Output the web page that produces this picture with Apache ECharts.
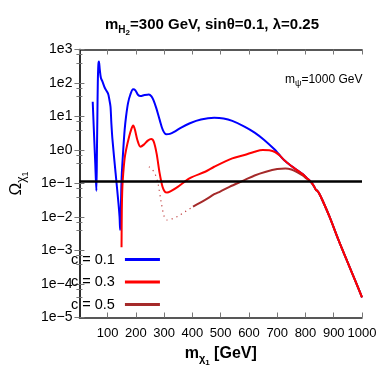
<!DOCTYPE html>
<html><head><meta charset="utf-8">
<script src="https://cdn.jsdelivr.net/npm/echarts@6/dist/echarts.min.js"></script>
<style>html,body{margin:0;padding:0;background:#fff}#c{width:382px;height:382px}</style>
</head><body><div id="c"></div>
<script>
// m_chi1 [GeV] and log10(Omega)
const c01Mass = [47,52,56,60,62,63.5,65,67,69,72,76,81.6,90,101,106,110,113,117,128,138,142,144,146,148,150,155,160,165,172,180,190,198,207,216,230,246,255,262,272,284,295,307,320,337,360,391,430,477,510,541,584,620,654,690,705];
const c01Log = [1.44,0.4,-0.4,-1.22,0.0,1.0,2.0,2.55,2.64,2.4,2.15,2.04,1.85,1.69,1.5,1.29,0.8,0.3,-0.69,-1.58,-2.0,-2.39,-2.0,-1.2,-0.7,0.0,0.6,1.0,1.4,1.65,1.81,1.78,1.65,1.61,1.64,1.66,1.6,1.49,1.25,0.9,0.6,0.47,0.48,0.55,0.67,0.80,0.91,0.96,0.94,0.87,0.70,0.52,0.30,0.02,-0.12];
const c03Mass = [149,150,152,155,160,165,176,184,190,196,205,216,228,242,254,263,273,284,294,302,310,325,348,391,445,477,541,584,620,649,672,692,710];
const c03Log = [-2.9,-1.8,-1.1,-0.7,-0.25,0.0,0.40,0.63,0.73,0.62,0.3,0.10,0.16,0.28,0.33,0.25,-0.10,-0.70,-1.10,-1.24,-1.27,-1.22,-1.10,-0.84,-0.65,-0.50,-0.25,-0.15,-0.05,0.0,-0.01,-0.06,-0.17];
const c05SparseMass = [246,257,267,278,289,300,310,330,350,370,390,402];
const c05SparseLog = [-0.50,-0.58,-0.70,-1.0,-1.54,-1.99,-2.09,-2.05,-1.97,-1.86,-1.76,-1.69];
const c05Mass = [402,445,477,498,531,584,620,660,700,729,750,770,790,805];
const c05Log = [-1.69,-1.49,-1.32,-1.24,-1.10,-0.90,-0.76,-0.65,-0.57,-0.55,-0.58,-0.66,-0.76,-0.86];
const sharedHighMass = [724,750,770,790,805];
const sharedHighLog = [-0.30,-0.48,-0.60,-0.72,-0.84];
const tailMass = [819,830,837,842,848,860,885,917,950,980,1000];
const tailLog = [-0.95,-1.08,-1.19,-1.22,-1.29,-1.5,-1.99,-2.69,-3.37,-3.98,-4.4];
const relicDensity = 0.12;
const seriesNames = ['c = 0.1','c = 0.3','c = 0.5'];

function pairs(ms, ls){ return ms.map((m,i)=>[m, Math.pow(10, ls[i])]); }
const blueData = pairs(c01Mass.concat(sharedHighMass, tailMass), c01Log.concat(sharedHighLog, tailLog));
const redData = pairs(c03Mass.concat(sharedHighMass, tailMass), c03Log.concat(sharedHighLog, tailLog));
const brownSparse = pairs(c05SparseMass, c05SparseLog);
const brownData = pairs(c05Mass.concat(tailMass), c05Log.concat(tailLog));

const FF = "'Liberation Sans Narrow','Liberation Sans',Arial,sans-serif";
const chart = echarts.init(document.getElementById('c'), null, {renderer:'canvas'});
function expLabel(v){ const e = Math.round(Math.log10(v)); return '1e' + (e<0 ? '\u2212' + (-e) : e); }
const axisLineStyle = {color:'#222', width:1.5};
const lineBase = {type:'line', showSymbol:false, symbol:'none', smooth:0.3, animation:false, clip:true};
chart.setOption({
  animation:false,
  backgroundColor:'#fff',
  title:{
    text:'{m|m}{s|H}{ss|2}{m|=300 GeV, sin\u03b8=0.1, \u03bb=0.25}',
    left:207, top:8, textAlign:'center',
    textStyle:{rich:{
      m:{fontFamily:FF, fontWeight:'bold', fontSize:15, color:'#000'},
      s:{fontFamily:FF, fontWeight:'bold', fontSize:10, color:'#000', padding:[10,0,0,0]},
      ss:{fontFamily:FF, fontWeight:'bold', fontSize:8, color:'#000', padding:[16,0,0,0]}
    }}
  },
  grid:{left:52, right:20, top:49.5, bottom:64.5, containLabel:false},
  legend:{
    data:seriesNames.map(n=>({name:n, icon:'rect'})),
    orient:'vertical', align:'right', left:66, top:247,
    itemWidth:35, itemHeight:3, itemGap:7.5,
    textStyle:{fontFamily:FF, fontSize:14.5, color:'#000', padding:[0,5,0,0]}
  },
  xAxis:[{
    type:'value', min:0, max:1000, interval:100,
    name:'{m|m}{s|\u03c7}{ss|1}{m| [GeV]}', nameLocation:'middle', nameGap:23,
    nameTextStyle:{rich:{
      m:{fontFamily:FF, fontWeight:'bold', fontSize:16, color:'#000'},
      s:{fontFamily:FF, fontWeight:'bold', fontSize:11, color:'#000', padding:[10,0,0,0]},
      ss:{fontFamily:FF, fontWeight:'bold', fontSize:8, color:'#000', padding:[18,0,0,0]}
    }},
    axisLine:{lineStyle:axisLineStyle},
    axisTick:{inside:true, length:5, lineStyle:{color:'#777'}},
    axisLabel:{fontFamily:FF, fontSize:13, color:'#000', margin:9, showMinLabel:false,
      formatter:v=> v===0 ? '' : String(v)},
    splitLine:{show:false}
  },{
    type:'value', min:0, max:1000, interval:100, position:'top',
    axisLine:{lineStyle:axisLineStyle},
    axisTick:{inside:true, length:5, lineStyle:{color:'#777'}},
    axisLabel:{show:false}, splitLine:{show:false}
  }],
  yAxis:[{
    type:'log', logBase:10, min:1e-5, max:1e3,
    name:'{m|\u03a9}{s|\u03c7}{ss|1}', nameLocation:'middle', nameGap:30, nameRotate:90,
    nameTextStyle:{rich:{
      m:{fontFamily:FF, fontSize:17, color:'#000'},
      s:{fontFamily:FF, fontSize:12, color:'#000', padding:[10,0,0,0]},
      ss:{fontFamily:FF, fontSize:9, color:'#000', padding:[18,0,0,0]}
    }},
    axisLine:{lineStyle:axisLineStyle},
    axisTick:{inside:true, length:5, lineStyle:{color:'#777'}},
    minorTick:{show:true, splitNumber:3, length:3, lineStyle:{color:'#777'}},
    axisLabel:{fontFamily:FF, fontSize:14, color:'#000', margin:7, formatter:expLabel},
    splitLine:{show:false}
  },{
    type:'log', logBase:10, min:1e-5, max:1e3, position:'right',
    axisLine:{lineStyle:axisLineStyle},
    axisTick:{inside:true, length:5, lineStyle:{color:'#777'}},
    minorTick:{show:true, splitNumber:3, length:3, lineStyle:{color:'#777'}},
    axisLabel:{show:false}, splitLine:{show:false}
  }],
  graphic:[{
    type:'text', left:285, top:74,
    style:{text:'{m|m}{s|\u03c8}{m|=1000 GeV}', rich:{
      m:{fontFamily:FF, fontSize:12, fill:'#000'},
      s:{fontFamily:FF, fontSize:9, fill:'#000', padding:[8,0,0,0]}
    }}
  }],
  series:[
    Object.assign({}, lineBase, {name:seriesNames[0], data:blueData, lineStyle:{color:'#0000ff', width:2}, itemStyle:{color:'#0000ff'}, z:2,
      markLine:{silent:true, symbol:'none', label:{show:false}, lineStyle:{color:'#000', width:2.5, type:'solid'}, data:[{yAxis:relicDensity}]}}),
    Object.assign({}, lineBase, {name:'c05sparse', data:brownSparse, lineStyle:{color:'#c04040', width:1.2, type:[1.2,4]}, itemStyle:{color:'#c04040'}, z:3}),
    Object.assign({}, lineBase, {name:seriesNames[2], data:brownData, lineStyle:{color:'#a52a2a', width:2}, itemStyle:{color:'#a52a2a'}, z:3}),
    Object.assign({}, lineBase, {name:seriesNames[1], data:redData, lineStyle:{color:'#ff0000', width:2}, itemStyle:{color:'#ff0000'}, z:4})
  ]
});
</script></body></html>
